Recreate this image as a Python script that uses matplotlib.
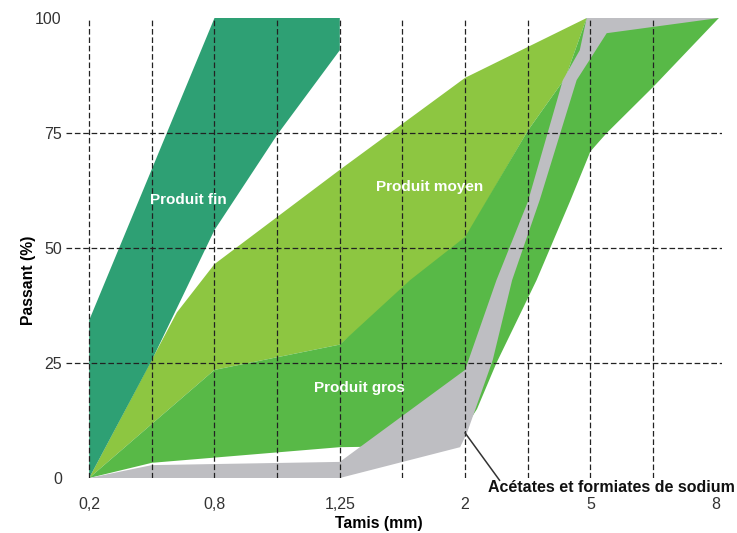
import matplotlib.pyplot as plt

plt.rcParams['font.family'] = ['Liberation Sans', 'DejaVu Sans']

# positions des tamis sur l'axe (une graduation sur deux porte un libelle)
tamis_pos = [0, 2, 4, 6, 8, 10]
tamis_labels = ['0,2', '0,8', '1,25', '2', '5', '8']
passant_ticks = [0, 25, 50, 75, 100]
grid_x = [0, 1, 2, 3, 4, 5, 6, 7, 8, 9]
grid_y = [25, 50, 75]

# Produit fin : contour du fuseau
fin_x = [0, 0, 2, 4, 4, 3, 2, 1, 0]
fin_y = [0, 34.3, 100, 100, 93, 74.6, 53.9, 25.6, 0]

# Produit moyen
moyen_x = [0, 1.4, 2, 4, 6, 7.94, 7.6, 7, 6, 4, 2, 0]
moyen_y = [0, 36, 46.5, 67, 87, 100, 87, 75.5, 52, 29, 23.5, 0]

# Produit gros
gros_x = [0, 2, 4, 5.12, 6, 7, 7.6, 7.94, 10.05, 9, 8.26, 8.0, 7.67, 7.14, 6.5, 6.19, 6.0, 5.5, 4, 1, 0]
gros_y = [0, 23.5, 29, 43, 52.4, 75.5, 87, 100, 100, 85, 75, 71, 60, 43, 25, 15, 11, 7, 6.7, 3.3, 0]

# Acetates et formiates de sodium
sodium_x = [0, 1, 4, 6, 6.5, 7.0, 7.56, 7.83, 7.94, 10.05, 8.26, 7.78, 7.19, 6.75, 6.44, 6.03, 5.92, 4, 0]
sodium_y = [0, 2.8, 3.5, 23.5, 43, 60, 86.5, 93, 100, 100, 96.7, 86.5, 60.4, 43, 25.6, 9.8, 6.7, 0, 0]

fig = plt.figure(figsize=(7.37, 5.33), dpi=100)
ax = fig.add_axes([66 / 737, 55 / 533, 656 / 737, 460 / 533])

ax.fill(moyen_x, moyen_y, color='#8dc641', lw=0, zorder=1)
ax.fill(gros_x, gros_y, color='#58b947', lw=0, zorder=2)
ax.fill(sodium_x, sodium_y, color='#bebec2', lw=0, zorder=3)
ax.fill(fin_x, fin_y, color='#2ea074', lw=0, zorder=4)

for gx in grid_x:
    ax.plot([gx, gx], [0, 100], color='#222222', lw=0.9, dashes=(4.5, 2.2), zorder=6)
for gy in grid_y:
    ax.axhline(gy, color='#222222', lw=0.9, dashes=(4.5, 2.2), zorder=6)

ax.text(1.58, 60.5, 'Produit fin', color='white', fontsize=11, fontweight='bold',
        ha='center', va='center', zorder=7)
ax.text(5.44, 63.2, 'Produit moyen', color='white', fontsize=11, fontweight='bold',
        ha='center', va='center', zorder=7)
ax.text(4.32, 19.6, 'Produit gros', color='white', fontsize=11, fontweight='bold',
        ha='center', va='center', zorder=7)

ax.plot([6.0, 6.55], [9.8, -0.5], color='#333333', lw=1.1, zorder=7, clip_on=False)
ax.text(8.33, -2.0, 'Acétates et formiates de sodium', color='#111111', fontsize=11.5,
        fontweight='bold', ha='center', va='center', zorder=7, clip_on=False)

ax.set_xlim(-0.37, 10.1)
ax.set_ylim(0, 100)
ax.set_xticks(tamis_pos)
ax.set_xticklabels(tamis_labels)
ax.set_yticks(passant_ticks)
ax.tick_params(length=0, labelsize=11.5, labelcolor='#333333')
ax.tick_params(axis='x', pad=14)
ax.tick_params(axis='y', pad=3)
for s in ax.spines.values():
    s.set_visible(False)

ax.set_xlabel('Tamis (mm)', fontsize=11.3, fontweight='bold')
ax.xaxis.set_label_coords(0.477, -0.082)
ax.set_ylabel('Passant (%)', fontsize=11.3, fontweight='bold')
ax.yaxis.set_label_coords(-0.045, 0.43)

fig.savefig('out.png', dpi=100)
